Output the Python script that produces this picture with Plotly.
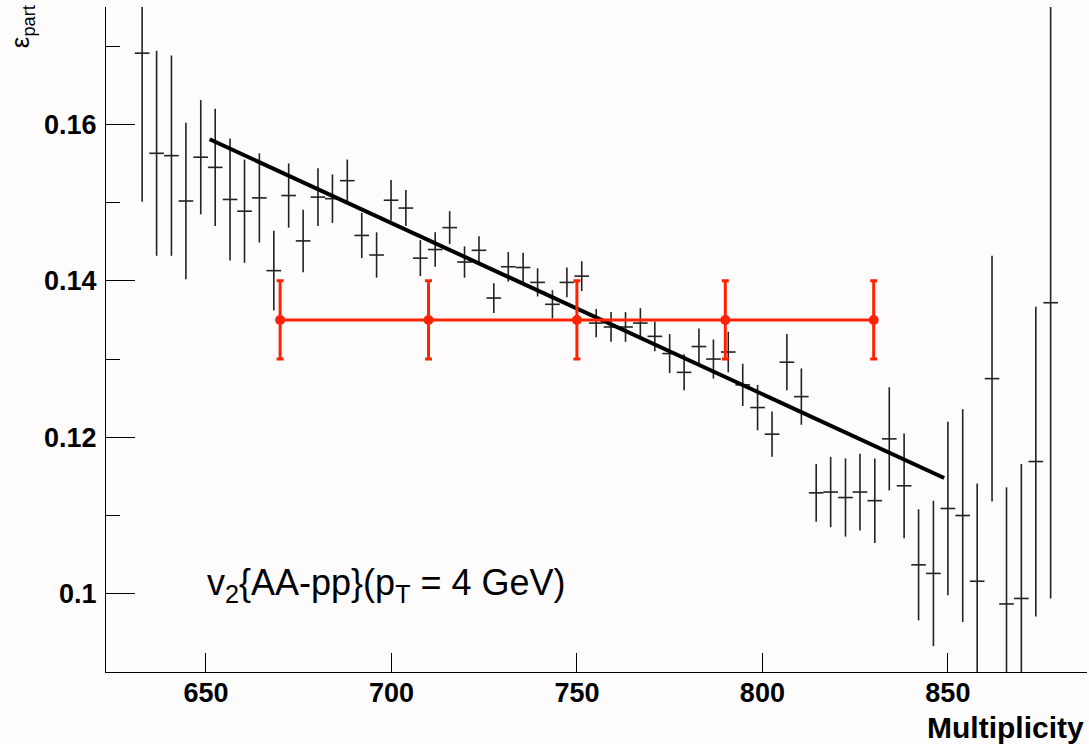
import plotly.graph_objects as go

# ---- data ----
multiplicity = [632.8, 636.7, 640.7, 644.6, 648.6, 652.5, 656.5, 660.4, 664.4, 668.3,
                672.3, 676.2, 680.2, 684.1, 688.1, 692.0, 696.0, 699.9, 703.9, 707.8,
                711.8, 715.7, 719.7, 723.6, 727.6, 731.5, 735.5, 739.4, 743.4, 747.3,
                751.3, 755.2, 759.2, 763.1, 767.1, 771.0, 775.0, 778.9, 782.9, 786.8,
                790.8, 794.7, 798.7, 802.6, 806.6, 810.5, 814.5, 818.4, 822.4, 826.3,
                830.3, 834.2, 838.2, 842.1, 846.1, 850.0, 854.0, 857.9, 861.9, 865.8,
                869.8, 873.7, 877.7]
eps_part = [0.1691, 0.1563, 0.1560, 0.1502, 0.1558, 0.1545, 0.1504, 0.1489, 0.1506, 0.1413,
            0.1509, 0.1451, 0.1507, 0.1505, 0.1528, 0.1458, 0.1433, 0.1503, 0.1493, 0.1429,
            0.1440, 0.1468, 0.1424, 0.1439, 0.1378, 0.1418, 0.1417, 0.1398, 0.1370, 0.1398,
            0.1406, 0.1346, 0.1341, 0.1341, 0.1346, 0.1329, 0.1307, 0.1283, 0.1316, 0.1300,
            0.1309, 0.1267, 0.1238, 0.1204, 0.1296, 0.1252, 0.1129, 0.1130, 0.1123, 0.1130,
            0.1119, 0.1198, 0.1138, 0.1037, 0.1026, 0.1109, 0.1100, 0.1016, 0.1275, 0.0987,
            0.0994, 0.1169, 0.1372]
eps_err = [0.0190, 0.0131, 0.0128, 0.0100, 0.0073, 0.0075, 0.0078, 0.0066, 0.0057, 0.0051,
           0.0041, 0.0040, 0.0037, 0.0031, 0.0027, 0.0029, 0.0029, 0.0026, 0.0023, 0.0023,
           0.0022, 0.0021, 0.0020, 0.0018, 0.0019, 0.0019, 0.0019, 0.0018, 0.0018, 0.0019,
           0.0019, 0.0018, 0.0019, 0.0019, 0.0019, 0.0019, 0.0025, 0.0023, 0.0023, 0.0025,
           0.0026, 0.0027, 0.0029, 0.0029, 0.0036, 0.0036, 0.0037, 0.0045, 0.0050, 0.0049,
           0.0054, 0.0066, 0.0067, 0.0071, 0.0093, 0.0111, 0.0136, 0.0125, 0.0157, 0.0149,
           0.0172, 0.0198, 0.0378]

fit_x = [651.0, 849.0]
fit_y = [0.1581, 0.1148]

v2_x = [670, 710, 750, 790, 830]
v2_y = [0.135, 0.135, 0.135, 0.135, 0.135]
v2_err = [0.005, 0.005, 0.005, 0.005, 0.005]

x_tickvals = [650, 700, 750, 800, 850]
x_ticktext = ["650", "700", "750", "800", "850"]
y_tickvals = [0.10, 0.12, 0.14, 0.16]
y_ticktext = ["0.1", "0.12", "0.14", "0.16"]
y_minorvals = [0.11, 0.13, 0.15, 0.17]

FONT = "Liberation Sans, Arial, Helvetica, sans-serif"
RED = "#ff2200"
BG = "#fffcfe"

fig = go.Figure()

fig.add_trace(go.Scatter(
    x=multiplicity, y=eps_part, mode="markers",
    marker=dict(size=1, color="rgba(0,0,0,0)"),
    error_y=dict(type="data", array=eps_err, color="#222222", thickness=1.6, width=0),
    error_x=dict(type="constant", value=1.975, color="#222222", thickness=1.6, width=0),
    showlegend=False, hoverinfo="x+y",
))

fig.add_trace(go.Scatter(
    x=fit_x, y=fit_y, mode="lines",
    line=dict(color="black", width=4),
    showlegend=False,
))

fig.add_trace(go.Scatter(
    x=v2_x, y=v2_y, mode="lines+markers",
    line=dict(color=RED, width=3),
    marker=dict(size=10, color=RED),
    error_y=dict(type="data", array=v2_err, color=RED, thickness=3, width=3.5),
    showlegend=False,
))

fig.add_annotation(
    x=649.8, y=0.1011, xref="x", yref="y",
    text="v<sub>2</sub>{AA-pp}(p<sub>T</sub> = 4 GeV)",
    showarrow=False, xanchor="left", yanchor="middle",
    font=dict(family=FONT, size=36, color="black"),
)

fig.add_annotation(
    x=0.999, y=-0.083, xref="paper", yref="paper",
    text="Multiplicity", showarrow=False,
    xanchor="right", yanchor="middle",
    font=dict(family=FONT, size=30, color="black", weight="bold"),
)

fig.add_annotation(
    x=-0.086, y=1.006, xref="paper", yref="paper",
    text="ε<sub>part</sub>", showarrow=False, textangle=-90,
    xanchor="center", yanchor="top",
    font=dict(family=FONT, size=26, color="black"),
)

fig.update_layout(
    width=1089, height=744,
    margin=dict(l=106, r=2, t=7, b=72),
    paper_bgcolor=BG, plot_bgcolor=BG,
    showlegend=False,
    xaxis=dict(
        range=[623.06, 887.5], showgrid=False, zeroline=False,
        showline=True, linecolor="black", linewidth=1.3,
        ticks="inside", ticklen=19, tickwidth=1.3, tickcolor="black",
        tickmode="array", tickvals=x_tickvals, ticktext=x_ticktext,
        tickfont=dict(family=FONT, size=27, color="black", weight="bold"),
        ticklabelstandoff=-4,
    ),
    yaxis=dict(
        range=[0.09, 0.175], showgrid=False, zeroline=False,
        showline=True, linecolor="black", linewidth=1.3,
        ticks="inside", ticklen=29, tickwidth=1.3, tickcolor="black",
        tickmode="array", tickvals=y_tickvals, ticktext=y_ticktext,
        tickfont=dict(family=FONT, size=27, color="black", weight="bold"),
        ticklabelstandoff=3,
        minor=dict(tickmode="array", tickvals=y_minorvals, ticks="inside",
                   ticklen=14, tickwidth=1.3, tickcolor="black", showgrid=False),
    ),
)

fig.write_html("out.html")
